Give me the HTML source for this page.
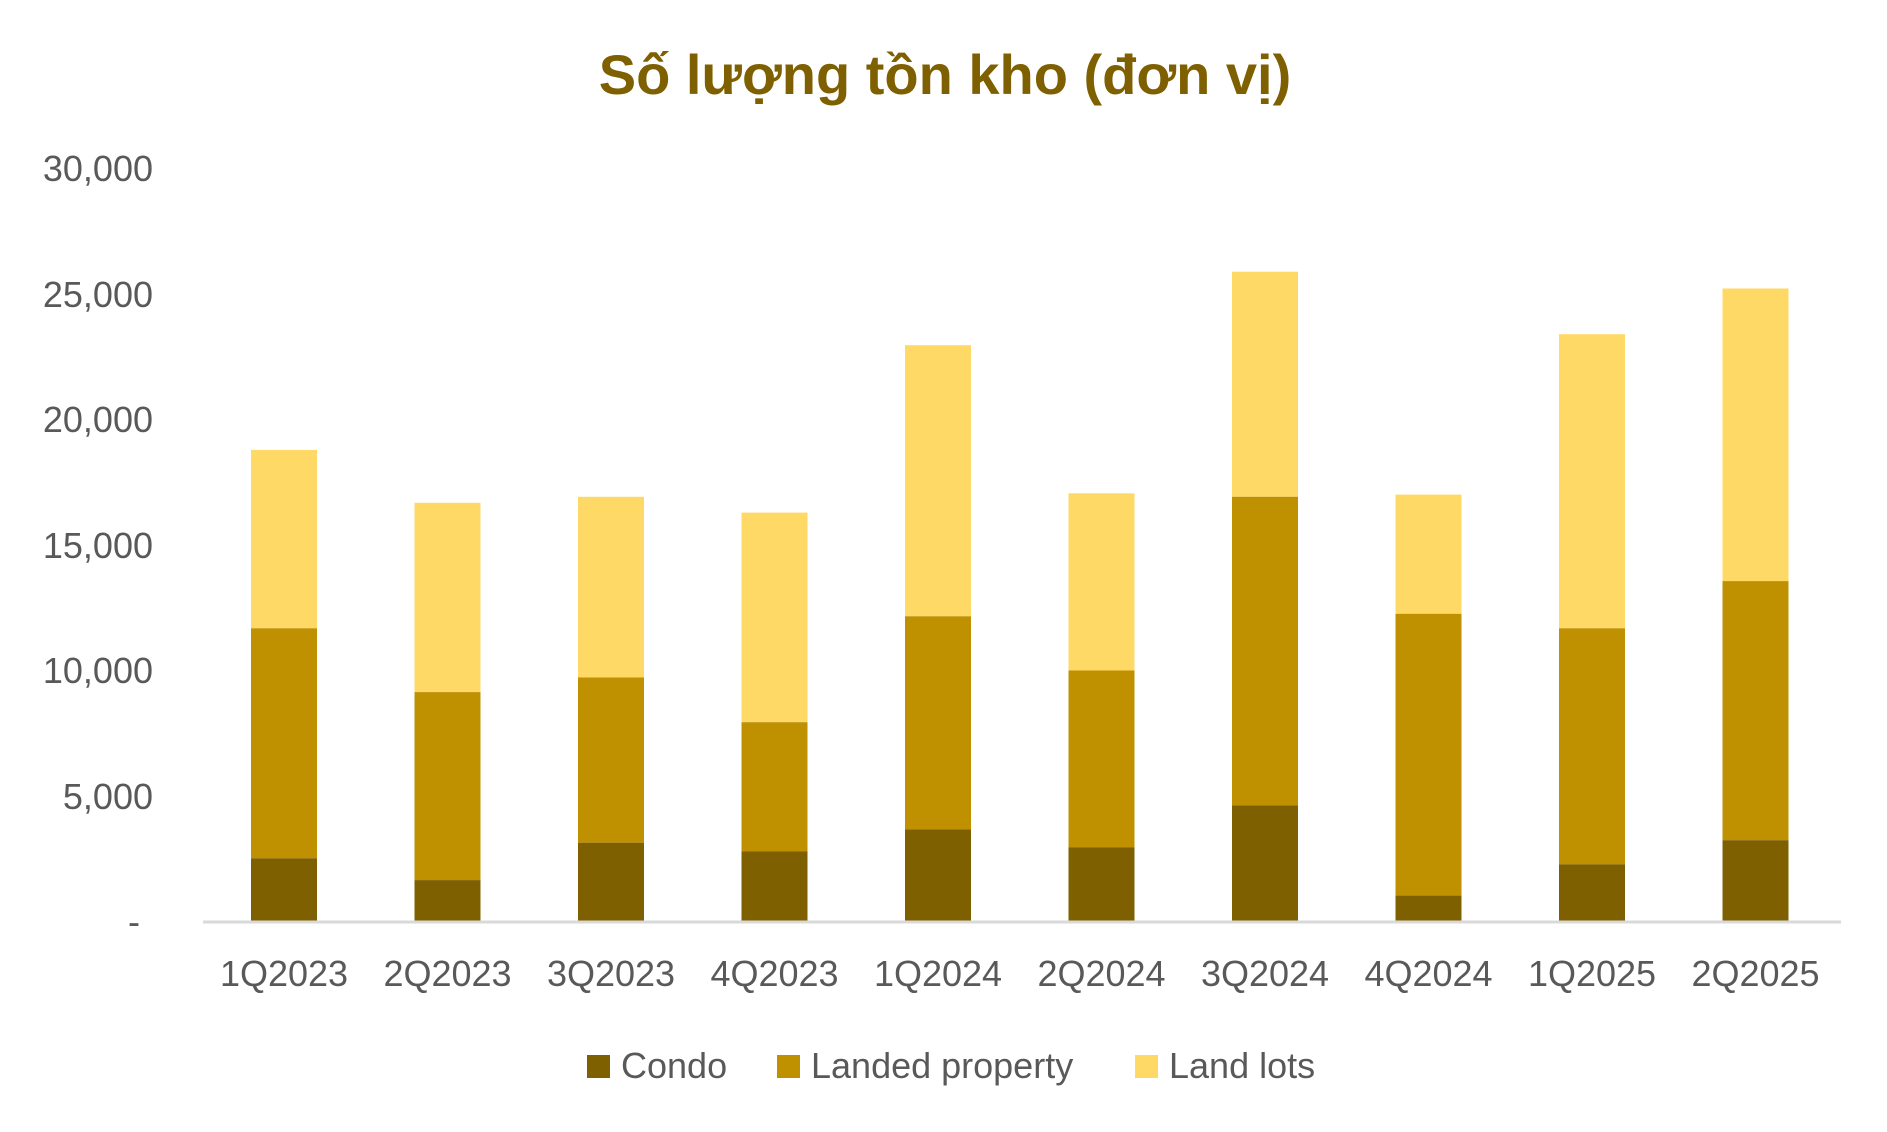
<!DOCTYPE html>
<html><head><meta charset="utf-8"><style>
html,body{margin:0;padding:0;background:#fff;}
svg{display:block;font-family:"Liberation Sans",sans-serif;}
</style></head><body>
<svg width="1887" height="1132" viewBox="0 0 1887 1132" xmlns="http://www.w3.org/2000/svg">
<text x="945" y="94" text-anchor="middle" font-size="56" font-weight="bold" fill="#7F6000">Số lượng tồn kho (đơn vị)</text>
<g font-size="36" fill="#595959" text-anchor="end">
<text x="153" y="181">30,000</text>
<text x="153" y="307">25,000</text>
<text x="153" y="432">20,000</text>
<text x="153" y="558">15,000</text>
<text x="153" y="683">10,000</text>
<text x="153" y="809">5,000</text>
<text x="140" y="934">-</text>
</g>
<g>
<rect x="251" y="449.9" width="66" height="178.4" fill="#FFD966"/><rect x="251" y="628.3" width="66" height="230" fill="#BF9000"/><rect x="251" y="858.3" width="66" height="62.7" fill="#7F6000"/>
<rect x="414.5" y="502.8" width="66" height="189.3" fill="#FFD966"/><rect x="414.5" y="692.1" width="66" height="188" fill="#BF9000"/><rect x="414.5" y="880.1" width="66" height="40.9" fill="#7F6000"/>
<rect x="578" y="496.8" width="66" height="180.7" fill="#FFD966"/><rect x="578" y="677.5" width="66" height="165.2" fill="#BF9000"/><rect x="578" y="842.7" width="66" height="78.3" fill="#7F6000"/>
<rect x="741.5" y="512.6" width="66" height="209.6" fill="#FFD966"/><rect x="741.5" y="722.2" width="66" height="129" fill="#BF9000"/><rect x="741.5" y="851.2" width="66" height="69.8" fill="#7F6000"/>
<rect x="905" y="345.2" width="66" height="271.1" fill="#FFD966"/><rect x="905" y="616.3" width="66" height="213.1" fill="#BF9000"/><rect x="905" y="829.4" width="66" height="91.6" fill="#7F6000"/>
<rect x="1068.5" y="493.3" width="66" height="177.2" fill="#FFD966"/><rect x="1068.5" y="670.5" width="66" height="177" fill="#BF9000"/><rect x="1068.5" y="847.5" width="66" height="73.5" fill="#7F6000"/>
<rect x="1232" y="271.7" width="66" height="225.1" fill="#FFD966"/><rect x="1232" y="496.8" width="66" height="308.5" fill="#BF9000"/><rect x="1232" y="805.3" width="66" height="115.7" fill="#7F6000"/>
<rect x="1395.5" y="494.6" width="66" height="119.2" fill="#FFD966"/><rect x="1395.5" y="613.8" width="66" height="281.8" fill="#BF9000"/><rect x="1395.5" y="895.6" width="66" height="25.4" fill="#7F6000"/>
<rect x="1559" y="334.2" width="66" height="294.1" fill="#FFD966"/><rect x="1559" y="628.3" width="66" height="236" fill="#BF9000"/><rect x="1559" y="864.3" width="66" height="56.7" fill="#7F6000"/>
<rect x="1722.5" y="288.5" width="66" height="292.6" fill="#FFD966"/><rect x="1722.5" y="581.1" width="66" height="259.1" fill="#BF9000"/><rect x="1722.5" y="840.2" width="66" height="80.8" fill="#7F6000"/>
</g>
<line x1="203" y1="922" x2="1841" y2="922" stroke="#d9d9d9" stroke-width="3"/>
<g font-size="36" fill="#595959" text-anchor="middle">
<text x="284" y="986">1Q2023</text>
<text x="447.5" y="986">2Q2023</text>
<text x="611" y="986">3Q2023</text>
<text x="774.5" y="986">4Q2023</text>
<text x="938" y="986">1Q2024</text>
<text x="1101.5" y="986">2Q2024</text>
<text x="1265" y="986">3Q2024</text>
<text x="1428.5" y="986">4Q2024</text>
<text x="1592" y="986">1Q2025</text>
<text x="1755.5" y="986">2Q2025</text>
</g>
<g font-size="36" fill="#595959">
<rect x="587" y="1055" width="23" height="23" fill="#7F6000"/><text x="621" y="1078">Condo</text>
<rect x="777" y="1055" width="23" height="23" fill="#BF9000"/><text x="811" y="1078">Landed property</text>
<rect x="1135" y="1055" width="23" height="23" fill="#FFD966"/><text x="1169" y="1078">Land lots</text>
</g>
</svg>
</body></html>
